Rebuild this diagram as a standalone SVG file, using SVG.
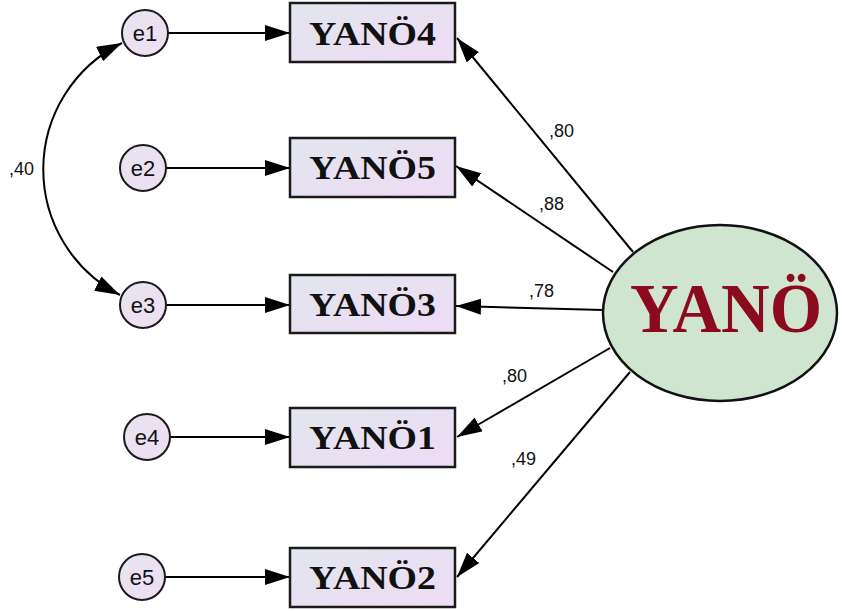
<svg xmlns="http://www.w3.org/2000/svg" width="842" height="611" viewBox="0 0 842 611">
  <defs>
    <linearGradient id="boxFill" x1="0" y1="0" x2="1" y2="1">
      <stop offset="0" stop-color="#E1E6EE"/>
      <stop offset="1" stop-color="#EFDBF5"/>
    </linearGradient>
    <linearGradient id="errFill" x1="0" y1="0" x2="1" y2="1">
      <stop offset="0" stop-color="#E6E4F0"/>
      <stop offset="1" stop-color="#F0DDF3"/>
    </linearGradient>
    <marker id="arrow" viewBox="0 0 25 16" refX="25" refY="8" markerWidth="25" markerHeight="16" markerUnits="userSpaceOnUse" orient="auto-start-reverse">
      <path d="M0,0 L25,8 L0,16 Z" fill="#000"/>
    </marker>
  </defs>
  <style>
    .box { fill: url(#boxFill); stroke: #1a1a1a; stroke-width: 2.5; }
    .err { fill: url(#errFill); stroke: #1a1a1a; stroke-width: 2; }
    .obs { font-family: "Liberation Serif", "Times New Roman", serif; font-weight: bold; font-size: 34px; fill: #111; text-anchor: middle; }
    .etxt { font-family: "Liberation Sans", Arial, sans-serif; font-size: 22px; fill: #111; text-anchor: middle; }
    .lbl { font-family: "Liberation Sans", Arial, sans-serif; font-size: 18px; fill: #111; }
    .conn path, .conn line { stroke: #000; stroke-width: 2; fill: none; marker-end: url(#arrow); }
  </style>
  <rect width="842" height="611" fill="#fff"/>

  <!-- connectors -->
  <g id="connectors" class="conn">
    <line x1="168" y1="33" x2="290" y2="33"/>
    <line x1="167" y1="168" x2="290" y2="168"/>
    <line x1="167" y1="305" x2="290" y2="305"/>
    <line x1="171" y1="437" x2="290" y2="437"/>
    <line x1="166" y1="577" x2="290" y2="577"/>
    <path d="M122,43 A141,141 0 0,0 120,295" style="marker-start:url(#arrow)"/>
    <line x1="633" y1="252" x2="457" y2="38"/>
    <line x1="613" y1="272" x2="456" y2="166"/>
    <line x1="603" y1="310" x2="456" y2="306"/>
    <line x1="610" y1="348" x2="457" y2="437"/>
    <line x1="630" y1="372" x2="457" y2="577"/>
  </g>

  <!-- path labels -->
  <g id="labels" class="lbl">
    <text x="9" y="175">,40</text>
    <text x="549" y="137">,80</text>
    <text x="539" y="210">,88</text>
    <text x="529" y="297">,78</text>
    <text x="502" y="382">,80</text>
    <text x="511" y="465">,49</text>
  </g>

  <!-- error terms -->
  <g id="e1"><circle class="err" cx="145" cy="33" r="23"/><text class="etxt" x="145" y="41">e1</text></g>
  <g id="e2"><circle class="err" cx="143" cy="168" r="23"/><text class="etxt" x="143" y="176">e2</text></g>
  <g id="e3"><circle class="err" cx="143" cy="305" r="23"/><text class="etxt" x="143" y="313">e3</text></g>
  <g id="e4"><circle class="err" cx="147" cy="437" r="23"/><text class="etxt" x="147" y="445">e4</text></g>
  <g id="e5"><circle class="err" cx="142" cy="577" r="23"/><text class="etxt" x="142" y="585">e5</text></g>

  <!-- observed indicators -->
  <g id="YANO4"><rect class="box" x="290" y="3" width="165" height="59"/><text class="obs" x="372.5" y="45" textLength="127" lengthAdjust="spacingAndGlyphs">YANÖ4</text></g>
  <g id="YANO5"><rect class="box" x="290" y="138" width="165" height="59"/><text class="obs" x="372.5" y="179" textLength="127" lengthAdjust="spacingAndGlyphs">YANÖ5</text></g>
  <g id="YANO3"><rect class="box" x="290" y="275" width="165" height="58"/><text class="obs" x="372.5" y="316" textLength="127" lengthAdjust="spacingAndGlyphs">YANÖ3</text></g>
  <g id="YANO1"><rect class="box" x="290" y="408" width="165" height="59"/><text class="obs" x="372.5" y="449" textLength="127" lengthAdjust="spacingAndGlyphs">YANÖ1</text></g>
  <g id="YANO2"><rect class="box" x="290" y="548" width="165" height="59"/><text class="obs" x="372.5" y="589" textLength="127" lengthAdjust="spacingAndGlyphs">YANÖ2</text></g>

  <!-- latent factor -->
  <g id="YANO">
    <ellipse cx="720" cy="313" rx="117" ry="88" fill="#CFE5CF" stroke="#111" stroke-width="2.5"/>
    <text x="726" y="332" text-anchor="middle" font-family="'Liberation Serif', 'Times New Roman', serif" font-weight="bold" font-size="70" fill="#8B0A1E" textLength="192" lengthAdjust="spacingAndGlyphs">YANÖ</text>
  </g>
</svg>
